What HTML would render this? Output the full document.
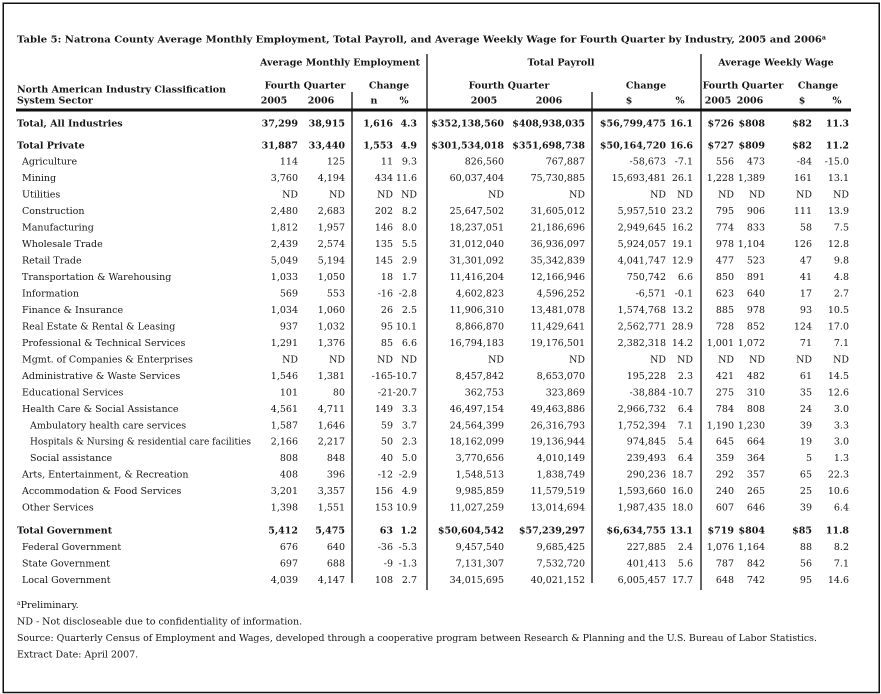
<!DOCTYPE html>
<html><head><meta charset="utf-8"><style>
html,body{margin:0;padding:0;background:#fff;}
svg{display:block;}
text{font-family:"DejaVu Serif","Liberation Serif",serif;font-size:9.5px;fill:#161616;}
.b{font-weight:bold;}
.e{text-anchor:end;}
.m{text-anchor:middle;}
</style></head><body>
<svg width="881" height="694" viewBox="0 0 881 694" xmlns="http://www.w3.org/2000/svg">
<rect x="3.25" y="3.25" width="876" height="689.25" fill="none" stroke="#111" stroke-width="1.5"/>
<text class="b" x="17" y="42.5" textLength="809" lengthAdjust="spacingAndGlyphs">Table 5:  Natrona County Average Monthly Employment, Total Payroll, and Average Weekly Wage for Fourth Quarter by Industry, 2005 and 2006<tspan font-size="6" dy="-3">a</tspan></text>

<g class="b">
<text class="b m" x="340" y="65.5">Average Monthly Employment</text>
<text class="b m" x="561" y="65.5">Total Payroll</text>
<text class="b m" x="776" y="65.5">Average Weekly Wage</text>
<text class="b" x="17" y="92.5">North American Industry Classification</text>
<text class="b" x="17" y="103.5">System Sector</text>
<text class="b m" x="305" y="88.5">Fourth Quarter</text>
<text class="b m" x="389" y="88.5">Change</text>
<text class="b m" x="509" y="88.5">Fourth Quarter</text>
<text class="b m" x="646" y="88.5">Change</text>
<text class="b m" x="743" y="88.5">Fourth Quarter</text>
<text class="b m" x="818" y="88.5">Change</text>
<text class="b m" x="274" y="103.5">2005</text>
<text class="b m" x="321" y="103.5">2006</text>
<text class="b m" x="374" y="103.5">n</text>
<text class="b m" x="404" y="103.5">%</text>
<text class="b m" x="484" y="103.5">2005</text>
<text class="b m" x="549" y="103.5">2006</text>
<text class="b m" x="629" y="103.5">$</text>
<text class="b m" x="680" y="103.5">%</text>
<text class="b m" x="718" y="103.5">2005</text>
<text class="b m" x="750" y="103.5">2006</text>
<text class="b m" x="802" y="103.5">$</text>
<text class="b m" x="837" y="103.5">%</text>
</g>

<rect x="16" y="108.5" width="835" height="3" fill="#111"/>
<line x1="352" y1="92" x2="352" y2="583" stroke="#111" stroke-width="1.3"/>
<line x1="427" y1="54" x2="427" y2="590" stroke="#111" stroke-width="1.3"/>
<line x1="592" y1="92" x2="592" y2="583" stroke="#111" stroke-width="1.3"/>
<line x1="701" y1="54" x2="701" y2="590" stroke="#111" stroke-width="1.3"/>

<g class="b">
<text class="b" x="17" y="126.5">Total, All Industries</text>
<text class="b e" x="298" y="126.5">37,299</text><text class="b e" x="345" y="126.5">38,915</text><text class="b e" x="393" y="126.5">1,616</text><text class="b e" x="417" y="126.5">4.3</text>
<text class="b e" x="504" y="126.5">$352,138,560</text><text class="b e" x="585" y="126.5">$408,938,035</text><text class="b e" x="666" y="126.5">$56,799,475</text><text class="b e" x="693" y="126.5">16.1</text>
<text class="b e" x="734" y="126.5">$726</text><text class="b e" x="765" y="126.5">$808</text><text class="b e" x="812" y="126.5">$82</text><text class="b e" x="849" y="126.5">11.3</text>
</g>
<g>
<text class="b" x="17" y="148.5">Total Private</text>
<text class="b e" x="298" y="148.5">31,887</text><text class="b e" x="345" y="148.5">33,440</text><text class="b e" x="393" y="148.5">1,553</text><text class="b e" x="417" y="148.5">4.9</text>
<text class="b e" x="504" y="148.5">$301,534,018</text><text class="b e" x="585" y="148.5">$351,698,738</text><text class="b e" x="666" y="148.5">$50,164,720</text><text class="b e" x="693" y="148.5">16.6</text>
<text class="b e" x="734" y="148.5">$727</text><text class="b e" x="765" y="148.5">$809</text><text class="b e" x="812" y="148.5">$82</text><text class="b e" x="849" y="148.5">11.2</text>
</g>

<g>
<text x="22" y="164.5">Agriculture</text>
<text class="e" x="298" y="164.5">114</text><text class="e" x="345" y="164.5">125</text><text class="e" x="393" y="164.5">11</text><text class="e" x="417" y="164.5">9.3</text><text class="e" x="504" y="164.5">826,560</text><text class="e" x="585" y="164.5">767,887</text><text class="e" x="666" y="164.5">-58,673</text><text class="e" x="693" y="164.5">-7.1</text><text class="e" x="734" y="164.5">556</text><text class="e" x="765" y="164.5">473</text><text class="e" x="812" y="164.5">-84</text><text class="e" x="849" y="164.5">-15.0</text>

<text x="22" y="181">Mining</text>
<text class="e" x="298" y="181">3,760</text><text class="e" x="345" y="181">4,194</text><text class="e" x="393" y="181">434</text><text class="e" x="417" y="181">11.6</text><text class="e" x="504" y="181">60,037,404</text><text class="e" x="585" y="181">75,730,885</text><text class="e" x="666" y="181">15,693,481</text><text class="e" x="693" y="181">26.1</text><text class="e" x="734" y="181">1,228</text><text class="e" x="765" y="181">1,389</text><text class="e" x="812" y="181">161</text><text class="e" x="849" y="181">13.1</text>

<text x="22" y="197.5">Utilities</text>
<text class="e" x="298" y="197.5">ND</text><text class="e" x="345" y="197.5">ND</text><text class="e" x="393" y="197.5">ND</text><text class="e" x="417" y="197.5">ND</text><text class="e" x="504" y="197.5">ND</text><text class="e" x="585" y="197.5">ND</text><text class="e" x="666" y="197.5">ND</text><text class="e" x="693" y="197.5">ND</text><text class="e" x="734" y="197.5">ND</text><text class="e" x="765" y="197.5">ND</text><text class="e" x="812" y="197.5">ND</text><text class="e" x="849" y="197.5">ND</text>

<text x="22" y="213.9">Construction</text>
<text class="e" x="298" y="213.9">2,480</text><text class="e" x="345" y="213.9">2,683</text><text class="e" x="393" y="213.9">202</text><text class="e" x="417" y="213.9">8.2</text><text class="e" x="504" y="213.9">25,647,502</text><text class="e" x="585" y="213.9">31,605,012</text><text class="e" x="666" y="213.9">5,957,510</text><text class="e" x="693" y="213.9">23.2</text><text class="e" x="734" y="213.9">795</text><text class="e" x="765" y="213.9">906</text><text class="e" x="812" y="213.9">111</text><text class="e" x="849" y="213.9">13.9</text>

<text x="22" y="230.4">Manufacturing</text>
<text class="e" x="298" y="230.4">1,812</text><text class="e" x="345" y="230.4">1,957</text><text class="e" x="393" y="230.4">146</text><text class="e" x="417" y="230.4">8.0</text><text class="e" x="504" y="230.4">18,237,051</text><text class="e" x="585" y="230.4">21,186,696</text><text class="e" x="666" y="230.4">2,949,645</text><text class="e" x="693" y="230.4">16.2</text><text class="e" x="734" y="230.4">774</text><text class="e" x="765" y="230.4">833</text><text class="e" x="812" y="230.4">58</text><text class="e" x="849" y="230.4">7.5</text>

<text x="22" y="246.9">Wholesale Trade</text>
<text class="e" x="298" y="246.9">2,439</text><text class="e" x="345" y="246.9">2,574</text><text class="e" x="393" y="246.9">135</text><text class="e" x="417" y="246.9">5.5</text><text class="e" x="504" y="246.9">31,012,040</text><text class="e" x="585" y="246.9">36,936,097</text><text class="e" x="666" y="246.9">5,924,057</text><text class="e" x="693" y="246.9">19.1</text><text class="e" x="734" y="246.9">978</text><text class="e" x="765" y="246.9">1,104</text><text class="e" x="812" y="246.9">126</text><text class="e" x="849" y="246.9">12.8</text>

<text x="22" y="263.4">Retail Trade</text>
<text class="e" x="298" y="263.4">5,049</text><text class="e" x="345" y="263.4">5,194</text><text class="e" x="393" y="263.4">145</text><text class="e" x="417" y="263.4">2.9</text><text class="e" x="504" y="263.4">31,301,092</text><text class="e" x="585" y="263.4">35,342,839</text><text class="e" x="666" y="263.4">4,041,747</text><text class="e" x="693" y="263.4">12.9</text><text class="e" x="734" y="263.4">477</text><text class="e" x="765" y="263.4">523</text><text class="e" x="812" y="263.4">47</text><text class="e" x="849" y="263.4">9.8</text>

<text x="22" y="279.9">Transportation &amp; Warehousing</text>
<text class="e" x="298" y="279.9">1,033</text><text class="e" x="345" y="279.9">1,050</text><text class="e" x="393" y="279.9">18</text><text class="e" x="417" y="279.9">1.7</text><text class="e" x="504" y="279.9">11,416,204</text><text class="e" x="585" y="279.9">12,166,946</text><text class="e" x="666" y="279.9">750,742</text><text class="e" x="693" y="279.9">6.6</text><text class="e" x="734" y="279.9">850</text><text class="e" x="765" y="279.9">891</text><text class="e" x="812" y="279.9">41</text><text class="e" x="849" y="279.9">4.8</text>

<text x="22" y="296.4">Information</text>
<text class="e" x="298" y="296.4">569</text><text class="e" x="345" y="296.4">553</text><text class="e" x="393" y="296.4">-16</text><text class="e" x="417" y="296.4">-2.8</text><text class="e" x="504" y="296.4">4,602,823</text><text class="e" x="585" y="296.4">4,596,252</text><text class="e" x="666" y="296.4">-6,571</text><text class="e" x="693" y="296.4">-0.1</text><text class="e" x="734" y="296.4">623</text><text class="e" x="765" y="296.4">640</text><text class="e" x="812" y="296.4">17</text><text class="e" x="849" y="296.4">2.7</text>

<text x="22" y="312.9">Finance &amp; Insurance</text>
<text class="e" x="298" y="312.9">1,034</text><text class="e" x="345" y="312.9">1,060</text><text class="e" x="393" y="312.9">26</text><text class="e" x="417" y="312.9">2.5</text><text class="e" x="504" y="312.9">11,906,310</text><text class="e" x="585" y="312.9">13,481,078</text><text class="e" x="666" y="312.9">1,574,768</text><text class="e" x="693" y="312.9">13.2</text><text class="e" x="734" y="312.9">885</text><text class="e" x="765" y="312.9">978</text><text class="e" x="812" y="312.9">93</text><text class="e" x="849" y="312.9">10.5</text>

<text x="22" y="329.3">Real Estate &amp; Rental &amp; Leasing</text>
<text class="e" x="298" y="329.3">937</text><text class="e" x="345" y="329.3">1,032</text><text class="e" x="393" y="329.3">95</text><text class="e" x="417" y="329.3">10.1</text><text class="e" x="504" y="329.3">8,866,870</text><text class="e" x="585" y="329.3">11,429,641</text><text class="e" x="666" y="329.3">2,562,771</text><text class="e" x="693" y="329.3">28.9</text><text class="e" x="734" y="329.3">728</text><text class="e" x="765" y="329.3">852</text><text class="e" x="812" y="329.3">124</text><text class="e" x="849" y="329.3">17.0</text>

<text x="22" y="345.8">Professional &amp; Technical Services</text>
<text class="e" x="298" y="345.8">1,291</text><text class="e" x="345" y="345.8">1,376</text><text class="e" x="393" y="345.8">85</text><text class="e" x="417" y="345.8">6.6</text><text class="e" x="504" y="345.8">16,794,183</text><text class="e" x="585" y="345.8">19,176,501</text><text class="e" x="666" y="345.8">2,382,318</text><text class="e" x="693" y="345.8">14.2</text><text class="e" x="734" y="345.8">1,001</text><text class="e" x="765" y="345.8">1,072</text><text class="e" x="812" y="345.8">71</text><text class="e" x="849" y="345.8">7.1</text>

<text x="22" y="362.3">Mgmt. of Companies &amp; Enterprises</text>
<text class="e" x="298" y="362.3">ND</text><text class="e" x="345" y="362.3">ND</text><text class="e" x="393" y="362.3">ND</text><text class="e" x="417" y="362.3">ND</text><text class="e" x="504" y="362.3">ND</text><text class="e" x="585" y="362.3">ND</text><text class="e" x="666" y="362.3">ND</text><text class="e" x="693" y="362.3">ND</text><text class="e" x="734" y="362.3">ND</text><text class="e" x="765" y="362.3">ND</text><text class="e" x="812" y="362.3">ND</text><text class="e" x="849" y="362.3">ND</text>

<text x="22" y="378.8">Administrative &amp; Waste Services</text>
<text class="e" x="298" y="378.8">1,546</text><text class="e" x="345" y="378.8">1,381</text><text class="e" x="393" y="378.8">-165</text><text class="e" x="417" y="378.8">-10.7</text><text class="e" x="504" y="378.8">8,457,842</text><text class="e" x="585" y="378.8">8,653,070</text><text class="e" x="666" y="378.8">195,228</text><text class="e" x="693" y="378.8">2.3</text><text class="e" x="734" y="378.8">421</text><text class="e" x="765" y="378.8">482</text><text class="e" x="812" y="378.8">61</text><text class="e" x="849" y="378.8">14.5</text>

<text x="22" y="395.3">Educational Services</text>
<text class="e" x="298" y="395.3">101</text><text class="e" x="345" y="395.3">80</text><text class="e" x="393" y="395.3">-21</text><text class="e" x="417" y="395.3">-20.7</text><text class="e" x="504" y="395.3">362,753</text><text class="e" x="585" y="395.3">323,869</text><text class="e" x="666" y="395.3">-38,884</text><text class="e" x="693" y="395.3">-10.7</text><text class="e" x="734" y="395.3">275</text><text class="e" x="765" y="395.3">310</text><text class="e" x="812" y="395.3">35</text><text class="e" x="849" y="395.3">12.6</text>

<text x="22" y="411.8">Health Care &amp; Social Assistance</text>
<text class="e" x="298" y="411.8">4,561</text><text class="e" x="345" y="411.8">4,711</text><text class="e" x="393" y="411.8">149</text><text class="e" x="417" y="411.8">3.3</text><text class="e" x="504" y="411.8">46,497,154</text><text class="e" x="585" y="411.8">49,463,886</text><text class="e" x="666" y="411.8">2,966,732</text><text class="e" x="693" y="411.8">6.4</text><text class="e" x="734" y="411.8">784</text><text class="e" x="765" y="411.8">808</text><text class="e" x="812" y="411.8">24</text><text class="e" x="849" y="411.8">3.0</text>

<text x="30" y="428.3">Ambulatory health care services</text>
<text class="e" x="298" y="428.3">1,587</text><text class="e" x="345" y="428.3">1,646</text><text class="e" x="393" y="428.3">59</text><text class="e" x="417" y="428.3">3.7</text><text class="e" x="504" y="428.3">24,564,399</text><text class="e" x="585" y="428.3">26,316,793</text><text class="e" x="666" y="428.3">1,752,394</text><text class="e" x="693" y="428.3">7.1</text><text class="e" x="734" y="428.3">1,190</text><text class="e" x="765" y="428.3">1,230</text><text class="e" x="812" y="428.3">39</text><text class="e" x="849" y="428.3">3.3</text>

<text x="30" y="444.7" textLength="221" lengthAdjust="spacingAndGlyphs">Hospitals &amp; Nursing &amp; residential care facilities</text>
<text class="e" x="298" y="444.7">2,166</text><text class="e" x="345" y="444.7">2,217</text><text class="e" x="393" y="444.7">50</text><text class="e" x="417" y="444.7">2.3</text><text class="e" x="504" y="444.7">18,162,099</text><text class="e" x="585" y="444.7">19,136,944</text><text class="e" x="666" y="444.7">974,845</text><text class="e" x="693" y="444.7">5.4</text><text class="e" x="734" y="444.7">645</text><text class="e" x="765" y="444.7">664</text><text class="e" x="812" y="444.7">19</text><text class="e" x="849" y="444.7">3.0</text>

<text x="30" y="461.2">Social assistance</text>
<text class="e" x="298" y="461.2">808</text><text class="e" x="345" y="461.2">848</text><text class="e" x="393" y="461.2">40</text><text class="e" x="417" y="461.2">5.0</text><text class="e" x="504" y="461.2">3,770,656</text><text class="e" x="585" y="461.2">4,010,149</text><text class="e" x="666" y="461.2">239,493</text><text class="e" x="693" y="461.2">6.4</text><text class="e" x="734" y="461.2">359</text><text class="e" x="765" y="461.2">364</text><text class="e" x="812" y="461.2">5</text><text class="e" x="849" y="461.2">1.3</text>

<text x="22" y="477.7">Arts, Entertainment, &amp; Recreation</text>
<text class="e" x="298" y="477.7">408</text><text class="e" x="345" y="477.7">396</text><text class="e" x="393" y="477.7">-12</text><text class="e" x="417" y="477.7">-2.9</text><text class="e" x="504" y="477.7">1,548,513</text><text class="e" x="585" y="477.7">1,838,749</text><text class="e" x="666" y="477.7">290,236</text><text class="e" x="693" y="477.7">18.7</text><text class="e" x="734" y="477.7">292</text><text class="e" x="765" y="477.7">357</text><text class="e" x="812" y="477.7">65</text><text class="e" x="849" y="477.7">22.3</text>

<text x="22" y="494.2">Accommodation &amp; Food Services</text>
<text class="e" x="298" y="494.2">3,201</text><text class="e" x="345" y="494.2">3,357</text><text class="e" x="393" y="494.2">156</text><text class="e" x="417" y="494.2">4.9</text><text class="e" x="504" y="494.2">9,985,859</text><text class="e" x="585" y="494.2">11,579,519</text><text class="e" x="666" y="494.2">1,593,660</text><text class="e" x="693" y="494.2">16.0</text><text class="e" x="734" y="494.2">240</text><text class="e" x="765" y="494.2">265</text><text class="e" x="812" y="494.2">25</text><text class="e" x="849" y="494.2">10.6</text>

<text x="22" y="510.6">Other Services</text>
<text class="e" x="298" y="510.6">1,398</text><text class="e" x="345" y="510.6">1,551</text><text class="e" x="393" y="510.6">153</text><text class="e" x="417" y="510.6">10.9</text><text class="e" x="504" y="510.6">11,027,259</text><text class="e" x="585" y="510.6">13,014,694</text><text class="e" x="666" y="510.6">1,987,435</text><text class="e" x="693" y="510.6">18.0</text><text class="e" x="734" y="510.6">607</text><text class="e" x="765" y="510.6">646</text><text class="e" x="812" y="510.6">39</text><text class="e" x="849" y="510.6">6.4</text>
</g>

<text class="b" x="17" y="533.5">Total Government</text>
<text class="b e" x="298" y="533.5">5,412</text><text class="b e" x="345" y="533.5">5,475</text><text class="b e" x="393" y="533.5">63</text><text class="b e" x="417" y="533.5">1.2</text>
<text class="b e" x="504" y="533.5">$50,604,542</text><text class="b e" x="585" y="533.5">$57,239,297</text><text class="b e" x="666" y="533.5">$6,634,755</text><text class="b e" x="693" y="533.5">13.1</text>
<text class="b e" x="734" y="533.5">$719</text><text class="b e" x="765" y="533.5">$804</text><text class="b e" x="812" y="533.5">$85</text><text class="b e" x="849" y="533.5">11.8</text>

<text x="22" y="550">Federal Government</text>
<text class="e" x="298" y="550">676</text><text class="e" x="345" y="550">640</text><text class="e" x="393" y="550">-36</text><text class="e" x="417" y="550">-5.3</text><text class="e" x="504" y="550">9,457,540</text><text class="e" x="585" y="550">9,685,425</text><text class="e" x="666" y="550">227,885</text><text class="e" x="693" y="550">2.4</text><text class="e" x="734" y="550">1,076</text><text class="e" x="765" y="550">1,164</text><text class="e" x="812" y="550">88</text><text class="e" x="849" y="550">8.2</text>

<text x="22" y="566.5">State Government</text>
<text class="e" x="298" y="566.5">697</text><text class="e" x="345" y="566.5">688</text><text class="e" x="393" y="566.5">-9</text><text class="e" x="417" y="566.5">-1.3</text><text class="e" x="504" y="566.5">7,131,307</text><text class="e" x="585" y="566.5">7,532,720</text><text class="e" x="666" y="566.5">401,413</text><text class="e" x="693" y="566.5">5.6</text><text class="e" x="734" y="566.5">787</text><text class="e" x="765" y="566.5">842</text><text class="e" x="812" y="566.5">56</text><text class="e" x="849" y="566.5">7.1</text>

<text x="22" y="583">Local Government</text>
<text class="e" x="298" y="583">4,039</text><text class="e" x="345" y="583">4,147</text><text class="e" x="393" y="583">108</text><text class="e" x="417" y="583">2.7</text><text class="e" x="504" y="583">34,015,695</text><text class="e" x="585" y="583">40,021,152</text><text class="e" x="666" y="583">6,005,457</text><text class="e" x="693" y="583">17.7</text><text class="e" x="734" y="583">648</text><text class="e" x="765" y="583">742</text><text class="e" x="812" y="583">95</text><text class="e" x="849" y="583">14.6</text>

<text x="17" y="608"><tspan font-size="6" dy="-3">a</tspan><tspan dy="3">Preliminary.</tspan></text>
<text x="17" y="624.5">ND - Not discloseable due to confidentiality of information.</text>
<text x="17" y="641" textLength="800" lengthAdjust="spacingAndGlyphs">Source: Quarterly Census of Employment and Wages, developed through a cooperative program between Research &amp; Planning and the U.S. Bureau of Labor Statistics.</text>
<text x="17" y="657.3">Extract Date: April 2007.</text>
</svg>
</body></html>
